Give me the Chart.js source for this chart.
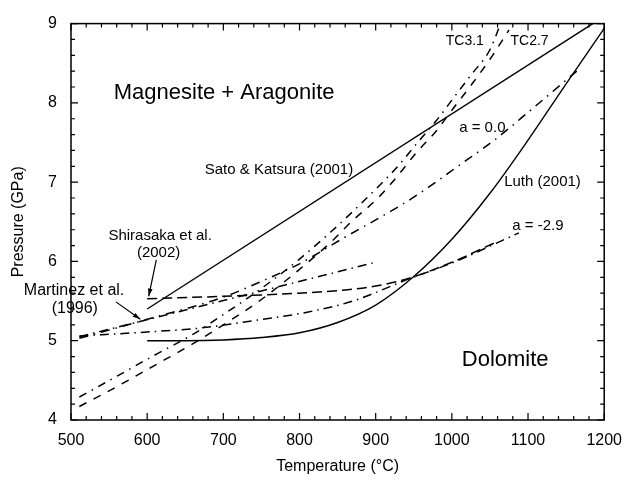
<!DOCTYPE html>
<html>
<head>
<meta charset="utf-8">
<script src="https://cdn.jsdelivr.net/npm/chart.js@4.4.0/dist/chart.umd.min.js"></script>
<style>
  html, body { margin: 0; padding: 0; background: #fff; }
</style>
</head>
<body>
<canvas id="phase" width="633" height="480"></canvas>
<script>
// temperature (°C) and pressure (GPa)
var satoT = [600, 1185];
var satoP = [5.40, 9.00];

var luthT = [600, 650, 700, 750, 800, 850, 900, 950, 1000, 1050, 1100, 1150, 1200];
var luthP = [5.00, 5.00, 5.01, 5.04, 5.10, 5.23, 5.45, 5.81, 6.28, 6.86, 7.53, 8.24, 8.94];

var shirasakaT = [600, 700, 800, 860, 900, 941, 1000, 1055];
var shirasakaP = [5.53, 5.56, 5.60, 5.64, 5.69, 5.78, 5.99, 6.23];

var martinezT = [511, 896];
var martinezP = [5.05, 5.98];

var aLowT = [511, 600, 670, 730, 810, 870, 941, 1000, 1088];
var aLowP = [5.06, 5.11, 5.16, 5.24, 5.36, 5.50, 5.77, 5.98, 6.36];

var aZeroT = [511, 600, 700, 755, 800, 855, 935, 970, 1005, 1057, 1100, 1170];
var aZeroP = [5.03, 5.27, 5.55, 5.77, 5.97, 6.28, 6.72, 6.94, 7.18, 7.54, 7.88, 8.45];

var tc31T = [511, 560, 610, 660, 700, 750, 800, 842, 870, 903, 930, 955, 980, 1002, 1025, 1050, 1064];
var tc31P = [4.29, 4.55, 4.82, 5.08, 5.33, 5.66, 6.03, 6.38, 6.63, 6.94, 7.21, 7.50, 7.78, 8.06, 8.35, 8.67, 9.00];

var tc27T = [511, 560, 610, 658, 700, 750, 800, 842, 868, 903, 928, 954, 979, 1001, 1025, 1050, 1075];
var tc27P = [4.17, 4.42, 4.69, 4.95, 5.20, 5.52, 5.90, 6.25, 6.50, 6.80, 7.07, 7.38, 7.64, 7.92, 8.22, 8.55, 8.92];

var xTicks = [500, 600, 700, 800, 900, 1000, 1100, 1200];
var yTicks = [4, 5, 6, 7, 8, 9];

// text written inside the plot
var noteText = ["Magnesite + Aragonite", "Dolomite", "Sato & Katsura (2001)", "Luth (2001)",
                "TC3.1", "TC2.7", "a = 0.0", "a = -2.9",
                "Shirasaka et al.", "(2002)", "Martinez et al.", "(1996)"];
var noteT = [701, 1070, 773, 1119, 1017, 1102, 1040, 1113, 617, 615, 504, 505];
var noteP = [8.12, 4.76, 7.15, 7.00, 8.78, 8.78, 7.68, 6.45, 6.32, 6.11, 5.63, 5.41];
var noteSize = [22, 22, 15, 15, 14, 14, 15, 15, 15, 15, 16, 16];

// arrows: tail then head
var arrowFromT = [612, 559];
var arrowFromP = [6.02, 5.49];
var arrowToT = [602, 591];
var arrowToP = [5.56, 5.27];

var FONT = "'Liberation Sans', Arial, Helvetica, sans-serif";

function series(name, T, P, dash, width) {
    return {
        label: name,
        data: T.map(function (t, i) { return {x: t, y: P[i]}; }),
        borderColor: '#000',
        borderWidth: width,
        borderDash: dash,
        pointRadius: 0,
        showLine: true,
        fill: false,
        cubicInterpolationMode: 'monotone'
    };
}

// box, inward ticks, labels and arrows
const framePlugin = {
    id: 'frame',
    afterDraw(chart) {
        const ctx = chart.ctx;
        const a = chart.chartArea;
        const xs = chart.scales.x;
        const ys = chart.scales.y;
        ctx.save();
        ctx.strokeStyle = '#000';
        ctx.lineWidth = 1.5;
        ctx.strokeRect(a.left, a.top, a.right - a.left, a.bottom - a.top);

        ctx.lineWidth = 1.2;
        ctx.beginPath();
        const xStep = (xTicks[1] - xTicks[0]) / 5;
        const nx = Math.round((xTicks[xTicks.length - 1] - xTicks[0]) / xStep);
        for (let k = 0; k <= nx; k++) {
            const px = xs.getPixelForValue(xTicks[0] + k * xStep);
            const len = k % 5 === 0 ? 7 : 4;
            ctx.moveTo(px, a.bottom); ctx.lineTo(px, a.bottom - len);
            ctx.moveTo(px, a.top); ctx.lineTo(px, a.top + len);
        }
        const yStep = (yTicks[1] - yTicks[0]) / 5;
        const ny = Math.round((yTicks[yTicks.length - 1] - yTicks[0]) / yStep);
        for (let k = 0; k <= ny; k++) {
            const py = ys.getPixelForValue(yTicks[0] + k * yStep);
            const len = k % 5 === 0 ? 7 : 4;
            ctx.moveTo(a.left, py); ctx.lineTo(a.left + len, py);
            ctx.moveTo(a.right, py); ctx.lineTo(a.right - len, py);
        }
        ctx.stroke();

        ctx.fillStyle = '#000';
        ctx.textAlign = 'center';
        ctx.textBaseline = 'middle';
        noteText.forEach(function (txt, i) {
            ctx.font = noteSize[i] + 'px ' + FONT;
            ctx.fillText(txt, xs.getPixelForValue(noteT[i]), ys.getPixelForValue(noteP[i]));
        });

        ctx.lineWidth = 1.2;
        arrowFromT.forEach(function (t, i) {
            const x0 = xs.getPixelForValue(t), y0 = ys.getPixelForValue(arrowFromP[i]);
            const x1 = xs.getPixelForValue(arrowToT[i]), y1 = ys.getPixelForValue(arrowToP[i]);
            const ang = Math.atan2(y1 - y0, x1 - x0);
            ctx.beginPath();
            ctx.moveTo(x0, y0);
            ctx.lineTo(x1, y1);
            ctx.stroke();
            ctx.beginPath();
            ctx.moveTo(x1, y1);
            ctx.lineTo(x1 - 8 * Math.cos(ang - 0.3), y1 - 8 * Math.sin(ang - 0.3));
            ctx.lineTo(x1 - 8 * Math.cos(ang + 0.3), y1 - 8 * Math.sin(ang + 0.3));
            ctx.closePath();
            ctx.fill();
        });
        ctx.restore();
    }
};

function plain(v) { return String(v); }

new Chart(document.getElementById('phase').getContext('2d'), {
    type: 'scatter',
    data: {
        datasets: [
            series('Sato & Katsura (2001)', satoT, satoP, [], 1.4),
            series('Luth (2001)', luthT, luthP, [], 1.4),
            series('Shirasaka et al. (2002)', shirasakaT, shirasakaP, [10, 5], 1.5),
            series('Martinez et al. (1996)', martinezT, martinezP, [9, 5, 1.5, 5], 1.5),
            series('a = -2.9', aLowT, aLowP, [9, 5, 1.5, 5], 1.5),
            series('a = 0.0', aZeroT, aZeroP, [9, 6, 1.5, 6], 1.5),
            series('TC3.1', tc31T, tc31P, [8, 6, 1.5, 6], 1.5),
            series('TC2.7', tc27T, tc27P, [8, 8], 1.5)
        ]
    },
    options: {
        responsive: false,
        animation: false,
        devicePixelRatio: 1,
        layout: { padding: { top: 17, right: 19, left: 0, bottom: 0 } },
        plugins: { legend: { display: false }, tooltip: { enabled: false } },
        scales: {
            x: {
                type: 'linear',
                min: 500,
                max: 1200,
                afterFit: function (s) { s.height = 60; },
                afterBuildTicks: function (s) { s.ticks = xTicks.map(function (v) { return {value: v}; }); },
                grid: { display: false, drawTicks: false, tickLength: 0 },
                border: { display: false },
                ticks: { color: '#000', padding: 11, maxRotation: 0, callback: plain, font: { size: 16, family: FONT } },
                title: { display: true, text: 'Temperature (°C)', color: '#000', padding: { top: 0, bottom: 4 }, font: { size: 16, family: FONT } }
            },
            y: {
                type: 'linear',
                min: 4,
                max: 9,
                afterFit: function (s) { s.width = 71; },
                afterBuildTicks: function (s) { s.ticks = yTicks.map(function (v) { return {value: v}; }); },
                grid: { display: false, drawTicks: false, tickLength: 0 },
                border: { display: false },
                ticks: { color: '#000', padding: 14, callback: plain, font: { size: 16, family: FONT } },
                title: { display: true, text: 'Pressure (GPa)', color: '#000', padding: { top: 9, bottom: 0 }, font: { size: 16, family: FONT } }
            }
        }
    },
    plugins: [framePlugin]
});
</script>
</body>
</html>
